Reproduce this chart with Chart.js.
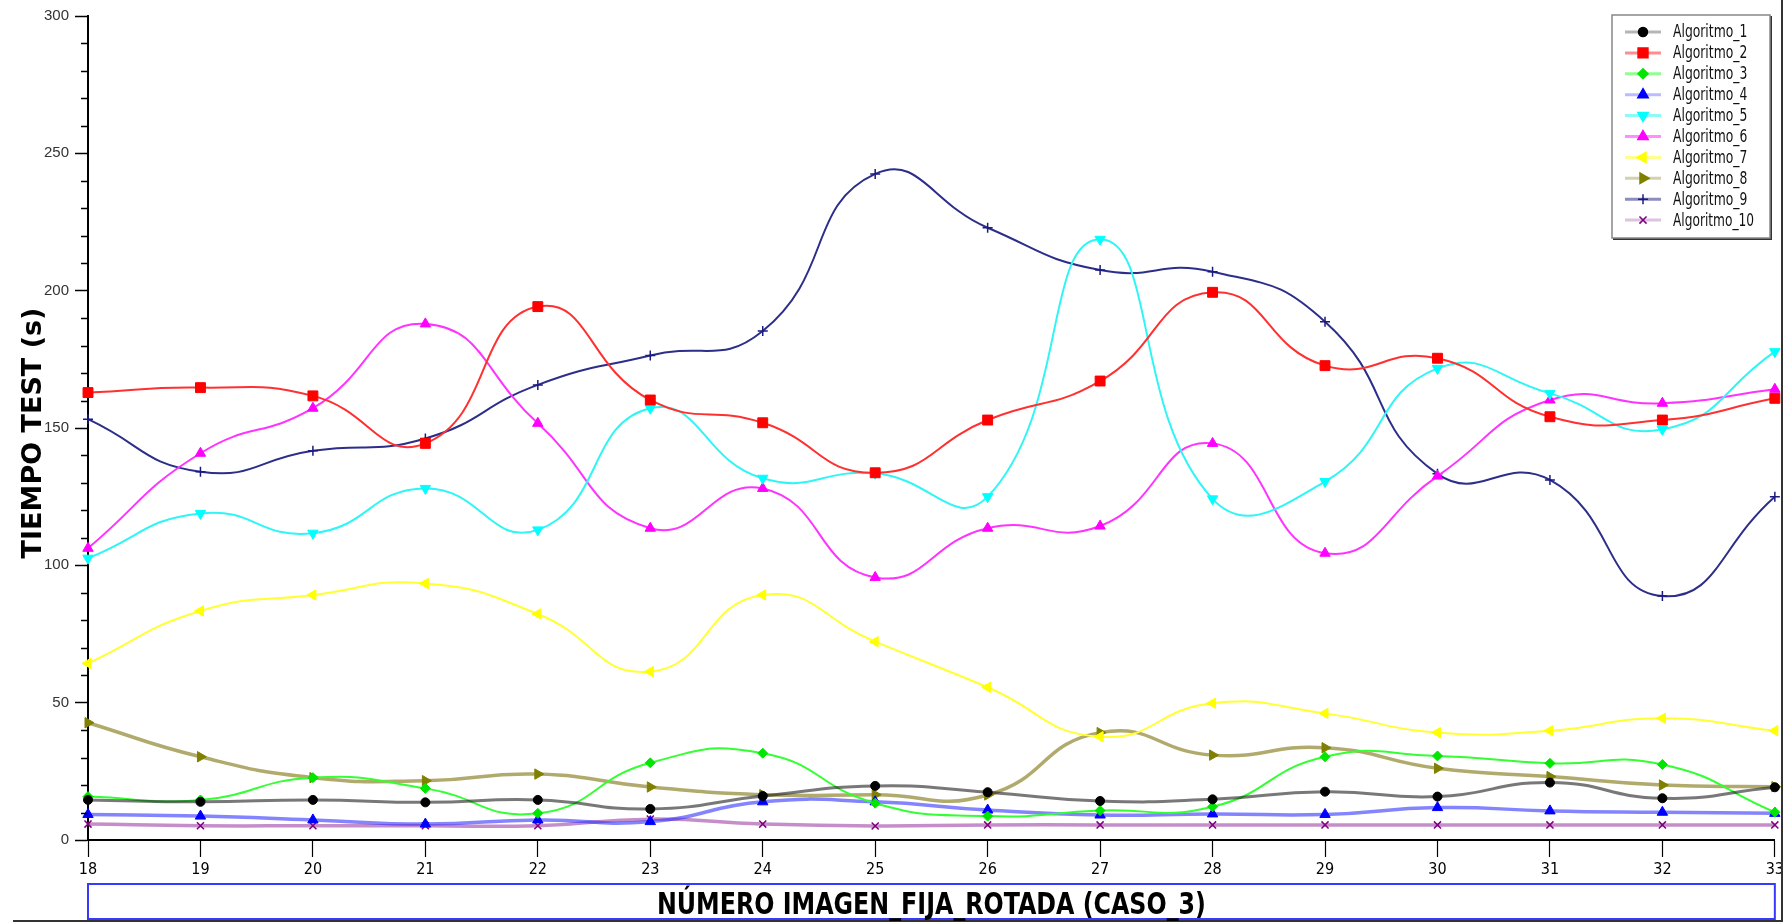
<!DOCTYPE html>
<html>
<head>
<meta charset="utf-8">
<title>Tiempo test - caso 3</title>
<script src="https://cdn.jsdelivr.net/npm/chart.js@4.4.0/dist/chart.umd.min.js"></script>
<style>
  html, body { margin: 0; padding: 0; background: #fff; }
  canvas { display: block; }
</style>
</head>
<body>
<canvas id="chart" width="1787" height="923"></canvas>
<script>
// x categories (image number)
const imagenes = ['18', '19', '20', '21', '22', '23', '24', '25', '26', '27', '28', '29', '30', '31', '32', '33'];

// test time (s) per algorithm
const algoritmo1 = [14.6, 13.9, 14.6, 13.7, 14.6, 11.3, 16.0, 19.7, 17.4, 14.2, 14.8, 17.6, 15.8, 20.9, 15.2, 19.2];
const algoritmo2 = [162.9, 164.7, 161.7, 144.4, 194.2, 160.2, 151.9, 133.7, 152.9, 167.1, 199.4, 172.7, 175.4, 154.1, 152.9, 160.8];
const algoritmo3 = [15.8, 14.6, 22.7, 18.8, 9.7, 28.1, 31.6, 13.4, 8.7, 10.7, 12.1, 30.3, 30.6, 27.9, 27.5, 10.1];
const algoritmo4 = [9.3, 8.7, 7.3, 5.8, 7.3, 6.7, 13.9, 13.9, 10.9, 9.1, 9.5, 9.3, 11.8, 10.6, 10.1, 9.7];
const algoritmo5 = [102.6, 118.9, 111.7, 128.0, 112.9, 157.2, 131.7, 133.5, 125.0, 218.7, 124.2, 130.5, 171.7, 162.6, 149.5, 177.8];
const algoritmo6 = [106.2, 140.8, 157.2, 187.9, 151.7, 113.5, 128.0, 95.6, 113.5, 114.3, 144.4, 104.4, 132.5, 160.2, 159.0, 164.1];
const algoritmo7 = [64.3, 83.4, 89.2, 93.4, 82.3, 61.3, 89.2, 72.2, 55.6, 37.6, 49.8, 46.1, 39.1, 39.8, 44.3, 39.8];
const algoritmo8 = [42.7, 30.3, 22.7, 21.6, 24.0, 19.3, 16.5, 16.5, 16.4, 39.1, 30.9, 33.6, 26.1, 23.1, 20.0, 19.4];
const algoritmo9 = [153.2, 134.1, 141.7, 146.2, 165.7, 176.4, 185.3, 242.5, 222.9, 207.5, 206.9, 188.7, 133.3, 131.1, 88.8, 125.0];
const algoritmo10 = [5.8, 5.2, 5.2, 5.2, 5.2, 7.6, 5.8, 5.1, 5.5, 5.5, 5.5, 5.5, 5.5, 5.5, 5.5, 5.5];

const nombres = ['Algoritmo_1', 'Algoritmo_2', 'Algoritmo_3', 'Algoritmo_4', 'Algoritmo_5',
                 'Algoritmo_6', 'Algoritmo_7', 'Algoritmo_8', 'Algoritmo_9', 'Algoritmo_10'];
const series = [algoritmo1, algoritmo2, algoritmo3, algoritmo4, algoritmo5,
                algoritmo6, algoritmo7, algoritmo8, algoritmo9, algoritmo10];

const yTicks = [0, 50, 100, 150, 200, 250, 300];
const yMinorStep = 10;
const tituloX = 'NÚMERO IMAGEN_FIJA_ROTADA (CASO_3)';
const tituloY = 'TIEMPO TEST (s)';

// look of each series
const estilos = [
    { color: '#000000', line: 'rgba(30,30,30,0.6)',    width: 3,   point: 'circle',   rot: 0,   r: 4.5 },
    { color: '#ff0000', line: '#ff3030',               width: 2,   point: 'rect',     rot: 0,   r: 7 },
    { color: '#00e600', line: '#33ff33',               width: 2,   point: 'rectRot',  rot: 0,   r: 5 },
    { color: '#0000ff', line: 'rgba(50,50,255,0.6)',   width: 3.5, point: 'triangle', rot: 0,   r: 6 },
    { color: '#00ffff', line: '#30f5f5',               width: 2,   point: 'triangle', rot: 180, r: 6 },
    { color: '#ff00ff', line: '#ff33ff',               width: 2,   point: 'triangle', rot: 0,   r: 6 },
    { color: '#ffff00', line: '#ffff33',               width: 2,   point: 'triangle', rot: 270, r: 6 },
    { color: '#808000', line: 'rgba(135,125,30,0.65)', width: 3.5, point: 'triangle', rot: 90,  r: 6 },
    { color: '#1a1a80', line: '#2d2d8a',               width: 2,   point: 'cross',    rot: 0,   r: 5 },
    { color: '#800080', line: 'rgba(150,50,160,0.55)', width: 3.5, point: 'crossRot', rot: 0,   r: 5 }
];

// is a narrow font installed? compare against the fallback
function hasFont(name) {
    const c = document.createElement('canvas').getContext('2d');
    c.font = '20px monospace';
    const base = c.measureText('Algoritmo_10 NÚMERO').width;
    c.font = '20px "' + name + '", monospace';
    return c.measureText('Algoritmo_10 NÚMERO').width !== base;
}
const NARROW = hasFont('Liberation Sans Narrow');
const narrowFamily = NARROW ? '"Liberation Sans Narrow", "Liberation Sans", sans-serif'
                            : '"DejaVu Sans Condensed", "Liberation Sans", sans-serif';

// text squeezed to a given width when the narrow face is missing
function fitText(ctx, text, x, y, maxW) {
    const w = ctx.measureText(text).width;
    const sx = Math.min(1, maxW / w);
    ctx.save();
    ctx.translate(x, y);
    ctx.scale(sx, 1);
    ctx.fillText(text, 0, 0);
    ctx.restore();
}

const decor = {
    id: 'decor',
    afterDraw(chart) {
        const ctx = chart.ctx;
        const { left, right } = chart.chartArea;
        const yScale = chart.scales.y;
        ctx.save();

        // minor ticks on the y axis
        ctx.strokeStyle = '#000';
        ctx.lineWidth = 1.5;
        for (let v = yScale.min; v <= yScale.max; v += yMinorStep) {
            if (yTicks.includes(v)) continue;
            const py = Math.round(yScale.getPixelForValue(v)) + 0.5;
            ctx.beginPath();
            ctx.moveTo(left - 7, py);
            ctx.lineTo(left, py);
            ctx.stroke();
        }

        // outer frame (bottom + right)
        ctx.strokeStyle = '#333';
        ctx.lineWidth = 2;
        ctx.beginPath();
        ctx.moveTo(13, 921);
        ctx.lineTo(1782, 921);
        ctx.lineTo(1782, 0);
        ctx.stroke();

        // x title in its blue box
        ctx.strokeStyle = '#3838ff';
        ctx.lineWidth = 2;
        ctx.strokeRect(left, 884, right - left, 35);
        ctx.fillStyle = '#000';
        ctx.font = 'bold 31px ' + narrowFamily;
        ctx.textAlign = 'center';
        ctx.textBaseline = 'alphabetic';
        fitText(ctx, tituloX, (left + right) / 2, 914, 549);

        // y title
        ctx.save();
        ctx.translate(34, 433);
        ctx.rotate(-Math.PI / 2);
        ctx.font = 'bold 27px "DejaVu Sans", "Liberation Sans", sans-serif';
        ctx.textBaseline = 'middle';
        fitText(ctx, tituloY, 0, 0, 254);
        ctx.restore();

        // legend
        const lx = 1612, ly = 15, lw = 158, lh = 223;
        ctx.fillStyle = '#fff';
        ctx.fillRect(lx, ly, lw, lh);
        ctx.strokeStyle = '#333';
        ctx.lineWidth = 2;
        ctx.beginPath();
        ctx.moveTo(lx + lw + 1, ly + 1);
        ctx.lineTo(lx + lw + 1, ly + lh + 1);
        ctx.lineTo(lx + 1, ly + lh + 1);
        ctx.stroke();
        ctx.strokeStyle = '#888';
        ctx.lineWidth = 1.5;
        ctx.strokeRect(lx, ly, lw, lh);

        ctx.font = '17px ' + narrowFamily;
        ctx.textAlign = 'left';
        ctx.textBaseline = 'middle';
        nombres.forEach((nombre, i) => {
            const st = estilos[i];
            const ry = 32 + i * 20.9;
            ctx.save();
            ctx.globalAlpha = 0.55;
            ctx.strokeStyle = st.line;
            ctx.lineWidth = 3;
            ctx.beginPath();
            ctx.moveTo(1625, ry);
            ctx.lineTo(1661, ry);
            ctx.stroke();
            ctx.restore();
            ctx.fillStyle = st.color;
            ctx.strokeStyle = st.color;
            Chart.helpers.drawPoint(ctx, {
                pointStyle: st.point, rotation: st.rot, radius: st.r,
                borderWidth: st.point.startsWith('cross') ? 1.5 : 1
            }, 1643, ry);
            ctx.fillStyle = '#111';
            fitText(ctx, nombre, 1673, ry + 1, nombre.length * 6.75);
        });

        ctx.restore();
    }
};

const datasets = series.map((vals, i) => {
    const st = estilos[i];
    return {
        label: nombres[i],
        data: vals,
        borderColor: st.line,
        borderWidth: st.width,
        tension: 0.5,
        fill: false,
        pointStyle: st.point,
        pointRotation: st.rot,
        pointRadius: st.r,
        pointBackgroundColor: st.color,
        pointBorderColor: st.color,
        pointBorderWidth: st.point.startsWith('cross') ? 1.5 : 1
    };
});

new Chart(document.getElementById('chart'), {
    type: 'line',
    data: { labels: imagenes, datasets: datasets },
    options: {
        responsive: false,
        animation: false,
        events: [],
        layout: { padding: { top: 16, right: 12, left: 0, bottom: 0 } },
        plugins: {
            legend: { display: false },
            tooltip: { enabled: false },
            title: { display: false }
        },
        scales: {
            x: {
                type: 'category',
                offset: false,
                afterFit: s => { s.height = 83; },
                border: { display: true, color: '#000', width: 2 },
                grid: { display: true, drawOnChartArea: false, drawTicks: true, tickLength: 17, tickColor: '#000', tickWidth: 1.2 },
                ticks: {
                    color: '#000',
                    font: { family: narrowFamily, size: 16 },
                    padding: 3,
                    maxRotation: 0,
                    autoSkip: false
                }
            },
            y: {
                min: yTicks[0],
                max: yTicks[yTicks.length - 1],
                afterFit: s => { s.width = 88; },
                afterBuildTicks: s => { s.ticks = yTicks.map(v => ({ value: v })); },
                border: { display: true, color: '#000', width: 2 },
                grid: { display: true, drawOnChartArea: false, drawTicks: true, tickLength: 13, tickColor: '#000', tickWidth: 1.5 },
                ticks: {
                    color: '#333',
                    font: { family: '"Liberation Sans", sans-serif', size: 15 },
                    padding: 6
                }
            }
        }
    },
    plugins: [decor]
});
</script>
</body>
</html>
